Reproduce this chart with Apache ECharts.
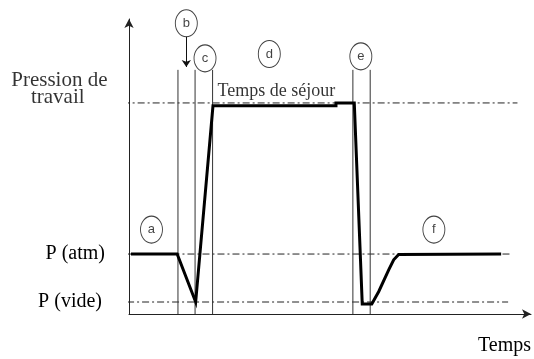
<!DOCTYPE html>
<html>
<head>
<meta charset="utf-8">
<script src="https://cdn.jsdelivr.net/npm/echarts@6/dist/echarts.min.js"></script>
<style>
html, body { margin: 0; background: #fff; }
#chart { width: 534px; height: 359px; }
</style>
</head>
<body>
<div id="chart"></div>
<script>
// pression (vide = 0, atm = 1) en fonction du temps, unités arbitraires
const cycle = [
    [0.5, 1], [12.1, 1], [16.75, 0], [21.1, 4.09], [52, 4.09], [52, 4.15], [56.6, 4.15],
    [58.6, -0.04], [61, -0.04], [62.75, 0.22], [65.25, 0.67], [66.5, 0.88], [67.75, 0.99], [93.5, 1]
];
const levels = [4.15, 1, 0];
const levelSpans = [[-1.6, 97.6], [-4.15, 95.75], [-4.25, 95.25]];
const travailLines = ['Pression de', 'travail'];
const travailLinePos = [[-17.5, 4.62], [-17.9, 4.27]];
const phaseBounds = [12.3, 16.6, 21, 56.25, 60.6];
const phaseTop = 4.84;
const phaseLetters = ['a', 'b', 'c', 'd', 'e', 'f'];
const phasePos = [[5.65, 1.51], [14.4, 5.81], [19.1, 5.08], [35.25, 5.17], [58.25, 5.12], [76.6, 1.51]];
const arrowB = [[14.4, 5.53], [14.4, 4.9]];
const sejour = [37, 4.4];

const yMin = -0.25;
const serif = 'Liberation Serif';

let chart = echarts.init(document.getElementById('chart'));

let series = [];
levels.forEach((lv, i) => {
    series.push({
        type: 'line', silent: true, clip: false, symbol: 'none', z: 2,
        data: [[levelSpans[i][0], lv], [levelSpans[i][1], lv]],
        lineStyle: { color: '#222', width: 1, type: [7, 3, 2, 3] }
    });
});
phaseBounds.forEach(x => {
    series.push({
        type: 'line', silent: true, symbol: 'none', z: 2,
        data: [[x, yMin], [x, phaseTop]],
        lineStyle: { color: '#333', width: 1 }
    });
});
series.push({
    type: 'line', silent: true, symbol: 'none', z: 5,
    data: cycle,
    lineStyle: { color: '#000', width: 3, join: 'miter' }
});
series.push({
    type: 'scatter', silent: true, clip: false, z: 6,
    symbol: 'circle', symbolSize: [22, 27],
    itemStyle: { color: 'rgba(0,0,0,0)', borderColor: '#111', borderWidth: 1 },
    label: { show: true, position: 'inside', formatter: '{b}', color: '#111',
        fontFamily: 'Liberation Sans', fontSize: 13 },
    data: phasePos.map((p, i) => ({ name: phaseLetters[i], value: p }))
});
series.push({
    type: 'lines', coordinateSystem: 'cartesian2d', silent: true, z: 6,
    symbol: ['none', 'arrow'], symbolSize: 7,
    lineStyle: { color: '#111', width: 1, opacity: 1 },
    data: [{ coords: arrowB }]
});
series.push({
    type: 'scatter', silent: true, symbolSize: 0, z: 6,
    label: { show: true, position: 'inside', formatter: 'Temps de séjour', color: '#000',
        fontFamily: serif, fontSize: 18 },
    data: [sejour]
});
// libellé du niveau haut : une ligne de texte par point, centrées
series.push({
    type: 'scatter', silent: true, clip: false, symbolSize: 0, z: 6,
    label: { show: true, position: 'inside', formatter: '{b}', color: '#000',
        fontFamily: serif, fontSize: 21 },
    data: travailLines.map((t, i) => ({ name: t, value: travailLinePos[i] }))
});

const option = {
    animation: false,
    backgroundColor: '#fff',
    grid: { left: 129, right: 1, top: 19, bottom: 45 },
    xAxis: {
        type: 'value', min: 0, max: 101,
        name: 'Temps', nameLocation: 'end', nameGap: 0,
        nameTextStyle: { fontFamily: serif, fontSize: 20, color: '#000',
            align: 'right', verticalAlign: 'top', padding: [22, 0, 0, 0] },
        axisLine: { onZero: false, symbol: ['none', 'arrow'], symbolSize: [7, 9],
            lineStyle: { color: '#222', width: 1 } },
        axisTick: { show: false }, axisLabel: { show: false }, splitLine: { show: false }
    },
    yAxis: {
        type: 'value', min: yMin, max: 5.9,
        axisLine: { show: true, onZero: false, symbol: ['none', 'arrow'], symbolSize: [7, 9],
            lineStyle: { color: '#222', width: 1 } },
        axisTick: { show: false }, splitLine: { show: false },
        axisLabel: {
            customValues: levels.slice(1), margin: 22, color: '#000',
            formatter: v => v === levels[1] ? '{a|P (atm)}' : '{v|P (vide)}',
            rich: {
                a: { fontFamily: serif, fontSize: 20, padding: [0, 2, 0, 0] },
                v: { fontFamily: serif, fontSize: 20, padding: [0, 5, 0, 0] }
            }
        }
    },
    series: series
};
chart.setOption(option);
</script>
</body>
</html>
